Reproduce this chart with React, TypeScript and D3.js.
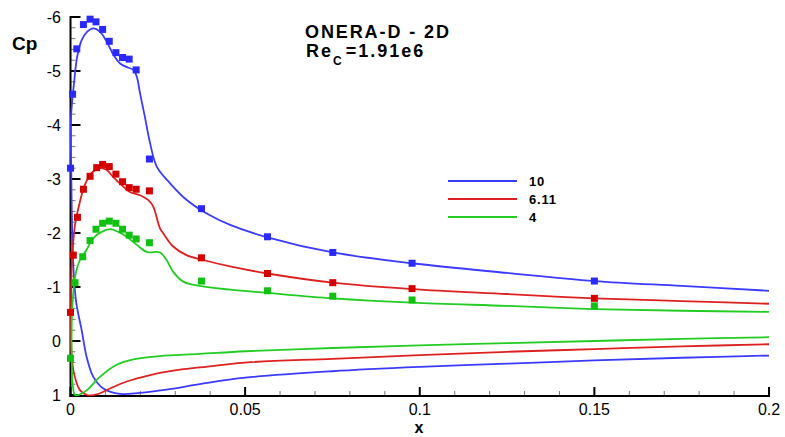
import React from 'react';
import * as d3 from 'd3';

// ---------- data ----------
const seriesNames = ['10', '6.11', '4'];

// computed Cp curves, ordered from lower surface (x=0.2) round the leading edge to upper surface (x=0.2)
const curve10: [number, number][] = [
  [0.2, 0.27], [0.175, 0.31], [0.15, 0.36], [0.125, 0.42], [0.1, 0.48], [0.075, 0.56], [0.05, 0.68],
  [0.037, 0.8], [0.0275, 0.9], [0.0199, 0.96], [0.0142, 0.98], [0.0094, 0.88], [0.0065, 0.66],
  [0.0046, 0.29], [0.0032, -0.2], [0.0016, -0.73], [0.0008, -1.4], [0.0004, -2.3], [0.0002, -3.2],
  [0.00015, -4.15], [0.001, -4.77], [0.0019, -5.26], [0.0032, -5.57], [0.0048, -5.73], [0.0065, -5.79],
  [0.0084, -5.73], [0.0104, -5.54], [0.0123, -5.3], [0.0142, -5.14], [0.0166, -5.06], [0.018, -5.02],
  [0.019, -4.89], [0.0199, -4.59], [0.0213, -4.15], [0.0228, -3.66], [0.0247, -3.23], [0.0285, -2.92],
  [0.0333, -2.61], [0.039, -2.36], [0.0457, -2.15], [0.0564, -1.92], [0.0751, -1.64], [0.0978, -1.44],
  [0.125, -1.26], [0.15, -1.11], [0.175, -1.02], [0.2, -0.93],
];

const curve611: [number, number][] = [
  [0.2, 0.06], [0.175, 0.1], [0.15, 0.15], [0.125, 0.2], [0.1, 0.26], [0.075, 0.33], [0.05, 0.4],
  [0.037, 0.49], [0.0294, 0.55], [0.0228, 0.63], [0.0161, 0.75], [0.0113, 0.88], [0.0075, 0.99],
  [0.0047, 1.0], [0.0027, 0.91], [0.001, 0.6], [0.0003, 0.22], [0.00015, -0.4], [0.0002, -1.0],
  [0.0004, -1.47], [0.0013, -2.15], [0.0027, -2.58], [0.0041, -2.89], [0.006, -3.11], [0.0084, -3.2],
  [0.0103, -3.17], [0.0122, -3.04], [0.0146, -2.89], [0.017, -2.76], [0.0199, -2.7], [0.0223, -2.61],
  [0.0237, -2.49], [0.0256, -2.09], [0.0266, -1.99], [0.0294, -1.75], [0.0332, -1.59], [0.038, -1.5],
  [0.0457, -1.38], [0.0564, -1.25], [0.0751, -1.08], [0.0978, -0.96], [0.125, -0.87], [0.15, -0.79],
  [0.175, -0.74], [0.2, -0.69],
];

const curve4: [number, number][] = [
  [0.2, -0.07], [0.175, -0.04], [0.15, 0.0], [0.125, 0.04], [0.1, 0.08], [0.075, 0.13], [0.05, 0.19],
  [0.037, 0.24], [0.0256, 0.28], [0.018, 0.34], [0.0132, 0.44], [0.0085, 0.66], [0.0047, 0.91],
  [0.0027, 0.99], [0.0013, 1.0], [0.0007, 0.85], [0.0004, 0.5], [0.0003, 0.0], [0.0004, -0.45],
  [0.0008, -0.89], [0.0013, -1.19], [0.0027, -1.5], [0.0046, -1.69], [0.0065, -1.9], [0.0089, -2.02],
  [0.0113, -2.07], [0.0137, -2.02], [0.0161, -1.93], [0.019, -1.78], [0.0218, -1.65], [0.0256, -1.64],
  [0.0275, -1.5], [0.0294, -1.28], [0.0323, -1.1], [0.0361, -1.03], [0.0457, -0.95], [0.0564, -0.89],
  [0.0751, -0.79], [0.0978, -0.71], [0.125, -0.65], [0.15, -0.59], [0.175, -0.56], [0.2, -0.54],
];

// experimental points
const exp10: [number, number][] = [
  [0, -3.2], [0.0006, -4.57], [0.0018, -5.41], [0.0037, -5.86], [0.0056, -5.96], [0.0073, -5.91],
  [0.0092, -5.77], [0.0111, -5.55], [0.013, -5.34], [0.0149, -5.25], [0.0168, -5.22], [0.0188, -5.02],
  [0.0226, -3.37], [0.0375, -2.45], [0.0564, -1.93], [0.0751, -1.64], [0.0978, -1.44], [0.15, -1.11],
];
const exp611: [number, number][] = [
  [0, -0.53], [0.0008, -1.59], [0.002, -2.29], [0.0037, -2.81], [0.0056, -3.05], [0.0075, -3.21],
  [0.0092, -3.27], [0.0111, -3.23], [0.013, -3.09], [0.0149, -2.95], [0.0168, -2.84], [0.0188, -2.81],
  [0.0226, -2.78], [0.0375, -1.54], [0.0564, -1.25], [0.0751, -1.08], [0.0978, -0.97], [0.15, -0.79],
];
const exp4: [number, number][] = [
  [0, 0.32], [0.0013, -1.08], [0.0035, -1.56], [0.0056, -1.86], [0.0073, -2.07], [0.0092, -2.18],
  [0.0111, -2.22], [0.013, -2.18], [0.0149, -2.07], [0.0168, -1.96], [0.0188, -1.89], [0.0226, -1.82],
  [0.0375, -1.11], [0.0564, -0.93], [0.0751, -0.83], [0.0978, -0.76], [0.15, -0.65],
];

const xTicks = [0, 0.05, 0.1, 0.15, 0.2];
const xTickLabels = ['0', '0.05', '0.1', '0.15', '0.2'];
const yTicks = [-6, -5, -4, -3, -2, -1, 0, 1];
const yTickLabels = ['-6', '-5', '-4', '-3', '-2', '-1', '0', '1'];

const titleLine1 = 'ONERA-D - 2D';
const reynolds = '=1.91e6';

// ---------- layout ----------
const W = 785;
const H = 437;
const lineColors = ['#3b3bff', '#dd2020', '#22cc22'];
const markColors = ['#2a2aff', '#d40000', '#11c011'];

export default function App() {
  const x = d3.scaleLinear().domain([0, 0.2]).range([70.5, 769]);
  const y = d3.scaleLinear().domain([-6, 1]).range([17, 395]);
  const line = d3
    .line<[number, number]>()
    .x((d) => x(d[0]))
    .y((d) => y(d[1]))
    .curve(d3.curveCatmullRom.alpha(0.5));

  const curves = [curve10, curve611, curve4];
  const exps = [exp10, exp611, exp4];

  const xMinor = d3.range(0, 0.2001, 0.01).filter((v) => Math.abs(v / 0.05 - Math.round(v / 0.05)) > 1e-6);
  const yMinor = d3.range(-6, 1.0001, 0.2).filter((v) => Math.abs(v - Math.round(v)) > 1e-6);
  const axisY = 396;
  const axisX = 70.5;
  const font = "'Liberation Sans', Arial, Helvetica, sans-serif";
  const ms = 7;

  return (
    <svg
      width={W}
      height={H}
      style={{ position: 'absolute', left: 0, top: 0, background: '#fff' }}
      fontFamily={font}
    >
      <rect width={W} height={H} fill="#fff" />
      {/* minor ticks */}
      {xMinor.map((v, i) => (
        <line key={'xm' + i} x1={x(v)} x2={x(v)} y1={axisY} y2={axisY - 5} stroke="#777" strokeWidth={1} />
      ))}
      {yMinor.map((v, i) => (
        <line key={'ym' + i} x1={axisX} x2={axisX + 5} y1={y(v)} y2={y(v)} stroke="#777" strokeWidth={1} />
      ))}
      {/* major ticks */}
      {xTicks.map((v, i) => (
        <line key={'xM' + i} x1={x(v)} x2={x(v)} y1={axisY} y2={axisY - 9} stroke="#000" strokeWidth={2} />
      ))}
      {yTicks.map((v, i) => (
        <line key={'yM' + i} x1={axisX} x2={axisX + 10} y1={y(v)} y2={y(v)} stroke="#000" strokeWidth={2} />
      ))}
      {/* axis lines */}
      <line x1={axisX} x2={axisX} y1={16} y2={axisY + 1} stroke="#000" strokeWidth={2} />
      <line x1={axisX - 1} x2={x(0.2) + 1} y1={axisY} y2={axisY} stroke="#000" strokeWidth={2} />

      {/* tick labels */}
      {xTicks.map((v, i) => (
        <text key={'xl' + i} x={x(v)} y={415} textAnchor="middle" fontSize={16} fill="#000">
          {xTickLabels[i]}
        </text>
      ))}
      {yTicks.map((v, i) => (
        <text key={'yl' + i} x={61} y={y(v) + 6} textAnchor="end" fontSize={16} fill="#000">
          {yTickLabels[i]}
        </text>
      ))}

      {/* axis titles */}
      <text x={12} y={50} fontSize={19} fontWeight="bold" fill="#000">
        Cp
      </text>
      <text x={419} y={433} fontSize={16} fontWeight="bold" textAnchor="middle" fill="#000">
        x
      </text>

      {/* curves */}
      {curves.map((c, i) => (
        <path key={'c' + i} d={line(c) || ''} fill="none" stroke={lineColors[i]} strokeWidth={1.8} />
      ))}
      {/* markers */}
      {exps.map((pts, i) =>
        pts.map((p, j) => (
          <rect
            key={'m' + i + '-' + j}
            x={x(p[0]) - ms / 2}
            y={y(p[1]) - ms / 2}
            width={ms}
            height={ms}
            fill={markColors[i]}
          />
        ))
      )}

      {/* title */}
      <text x={305} y={38} fontSize={18} fontWeight="bold" letterSpacing={1.9} fill="#000">
        {titleLine1}
      </text>
      <text x={306} y={57} fontSize={18} fontWeight="bold" letterSpacing={2} fill="#000">
        Re
        <tspan fontSize={12} dy={8} letterSpacing={0}>C</tspan>
        <tspan dy={-8} dx={4}>{reynolds}</tspan>
      </text>

      {/* legend */}
      {seriesNames.map((name, i) => (
        <g key={'lg' + i}>
          <line x1={448} x2={517} y1={181 + i * 18} y2={181 + i * 18} stroke={lineColors[i]} strokeWidth={2} />
          <text x={529} y={181 + i * 18 + 5} fontSize={13} fontWeight="bold" letterSpacing={0.8} fill="#000">
            {name}
          </text>
        </g>
      ))}
    </svg>
  );
}
